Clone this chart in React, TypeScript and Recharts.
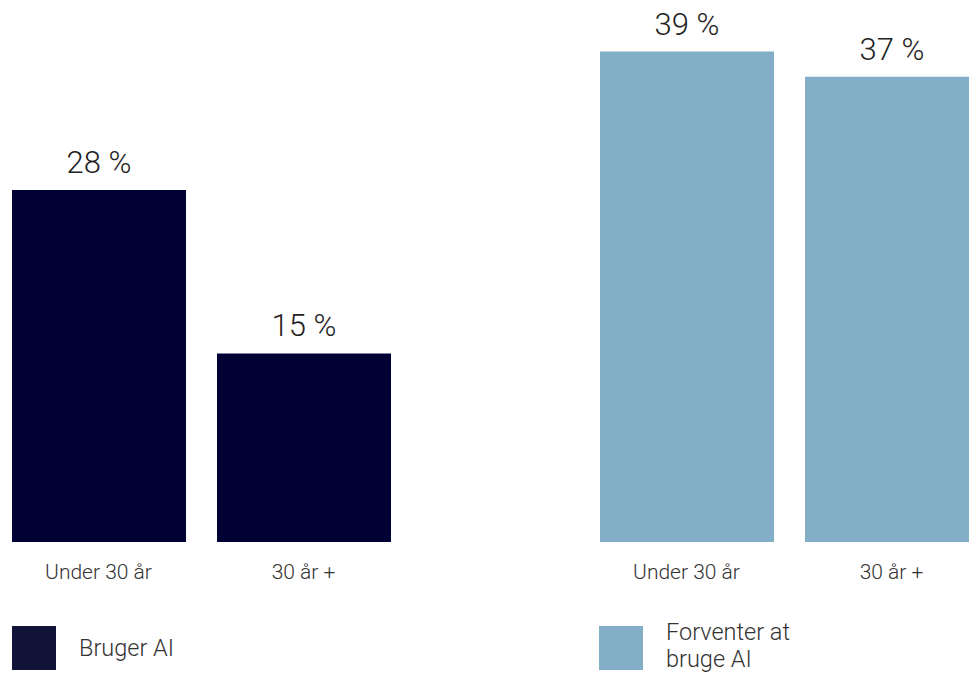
import { BarChart, Bar, XAxis, YAxis, LabelList } from "recharts";

const categories = ["Under 30 år", "30 år +"];
const brugerAI = [28, 15];
const forventerAI = [39, 37];

const seriesNames = ["Bruger AI", "Forventer at bruge AI"];

const NAVY = "#000035";
const NAVY_LEGEND = "#111339";
const LIGHT_BLUE = "#82aec8";
const FONT = "Roboto, 'Noto Sans', sans-serif";

const leftData = categories.map((name, i) => ({ name, value: brugerAI[i] }));
const rightData = categories.map((name, i) => ({ name, value: forventerAI[i] }));

function GroupChart({
  data,
  color,
  left,
}: {
  data: Array<{ name: string; value: number }>;
  color: string;
  left: number;
}) {
  return (
    <div style={{ position: "absolute", left, top: 0 }}>
      <BarChart
        width={410}
        height={676}
        data={data}
        margin={{ top: 39, right: 0, bottom: 104, left: 0 }}
        barCategoryGap={0}
      >
        <XAxis
          dataKey="name"
          height={30}
          axisLine={false}
          tickLine={false}
          tickMargin={16}
          tick={{ fontSize: 21, fill: "#333", fontFamily: FONT, fontWeight: 300 }}
          interval={0}
        />
        <YAxis hide domain={[0, 40]} />
        <Bar dataKey="value" fill={color} barSize={174} isAnimationActive={false}>
          <LabelList
            dataKey="value"
            position="top"
            offset={17}
            formatter={(v: any) => `${v} %`}
            style={{ fontSize: 31, fill: "#222", fontFamily: FONT, fontWeight: 300 }}
          />
        </Bar>
      </BarChart>
    </div>
  );
}

function LegendItem({
  color,
  label,
  left,
  textLeft,
  lines,
}: {
  color: string;
  label: string;
  left: number;
  textLeft: number;
  lines: string[];
}) {
  return (
    <>
      <div
        style={{
          position: "absolute",
          left,
          top: 626,
          width: 44,
          height: 44,
          background: color,
        }}
      />
      <div
        aria-label={label}
        style={{
          position: "absolute",
          left: textLeft,
          top: lines.length > 1 ? 619 : 635,
          fontFamily: FONT,
          fontWeight: 300,
          fontSize: 23.5,
          lineHeight: "27px",
          color: "#333",
          whiteSpace: "nowrap",
        }}
      >
        {lines.map((l) => (
          <div key={l}>{l}</div>
        ))}
      </div>
    </>
  );
}

export default function App() {
  return (
    <div
      style={{
        position: "fixed",
        left: 0,
        top: 0,
        width: 969,
        height: 676,
        overflow: "hidden",
        background: "#fff",
      }}
    >
      <GroupChart data={leftData} color={NAVY} left={-4} />
      <GroupChart data={rightData} color={LIGHT_BLUE} left={584} />
      <LegendItem color={NAVY_LEGEND} label={seriesNames[0]} left={12} textLeft={79} lines={["Bruger AI"]} />
      <LegendItem
        color={LIGHT_BLUE}
        label={seriesNames[1]}
        left={599}
        textLeft={666}
        lines={["Forventer at", "bruge AI"]}
      />
    </div>
  );
}
